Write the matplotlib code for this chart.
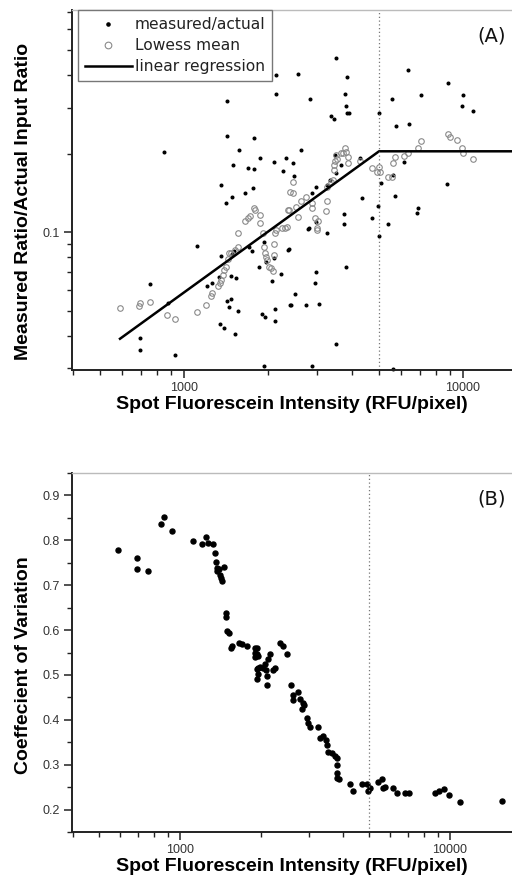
#!/usr/bin/env python3
"""
Two-panel figure: measured/actual ratio vs spot intensity (A) and CV vs intensity (B).
"""

from __future__ import annotations

import matplotlib

matplotlib.use("Agg")
import matplotlib.pyplot as plt
from matplotlib.ticker import FixedLocator, NullFormatter, FixedFormatter, MultipleLocator

# ---- panel A: measured/actual ratios (black dots) ----
measured_x = [
    3506, 2137, 2562, 3839, 6352, 2137, 1426, 2829, 3777, 3808, 3839, 3903, 3364, 3449,
    5000, 5566, 7071, 8836, 10000, 9918, 10860, 5753, 6405, 1426, 1782, 1575, 848, 2627,
    1873, 2320, 2102, 1499, 1696, 1782, 2264, 2479, 2458, 4275, 6145, 1357, 1767, 1654,
    1486, 1414, 2972, 2876, 3255, 3477, 3654, 3506, 3337, 5612, 5083, 4345, 5705, 8763,
    3746, 3746, 4719, 4959, 6898, 6841, 5385, 2805, 2972, 3255, 5000, 1113, 755, 876,
    695, 695, 928, 1357, 1486, 1511, 1753, 1710, 1857, 1935, 1967, 2102, 2378, 2227,
    2067, 1335, 1260, 1209, 1474, 1536, 1426, 1474, 1450, 1562, 1904, 1951, 2119, 2119,
    2398, 1346, 1391, 1524, 1935, 2783, 2359, 2972, 2948, 3808, 2499, 2418, 2737, 3047,
    3506, 2876, 5612,
]
measured_y = [
    0.464, 0.400, 0.403, 0.393, 0.418, 0.338, 0.318, 0.323, 0.338, 0.304, 0.286, 0.286, 0.278, 0.271,
    0.286, 0.323, 0.335, 0.372, 0.335, 0.304, 0.291, 0.255, 0.259, 0.233, 0.229, 0.206, 0.203, 0.206,
    0.192, 0.192, 0.185, 0.181, 0.176, 0.174, 0.171, 0.164, 0.184, 0.192, 0.185, 0.151, 0.147, 0.141,
    0.136, 0.129, 0.149, 0.141, 0.151, 0.197, 0.181, 0.168, 0.158, 0.165, 0.154, 0.135, 0.137, 0.153,
    0.117, 0.107, 0.113, 0.126, 0.124, 0.118, 0.107, 0.104, 0.109, 0.099, 0.0965, 0.0884, 0.0632, 0.0535,
    0.0393, 0.0353, 0.0338, 0.0809, 0.0824, 0.0846, 0.0846, 0.0876, 0.0734, 0.0916, 0.0768, 0.0795, 0.0861, 0.0690,
    0.0649, 0.0672, 0.0638, 0.0621, 0.0678, 0.0666, 0.0544, 0.0554, 0.0516, 0.0498, 0.0485, 0.0472, 0.0507, 0.0456,
    0.0525, 0.0444, 0.0429, 0.0407, 0.0307, 0.103, 0.0853, 0.0703, 0.0638, 0.0734, 0.0579, 0.0525, 0.0525, 0.0530,
    0.0372, 0.0307, 0.0299,
]

# ---- panel A: lowess mean (gray open circles) ----
lowess_x = [
    590, 695, 690, 755, 869, 928, 1113, 1199, 1250, 1260, 1324, 1346, 1357, 1380, 1391, 1414,
    1438, 1450, 1474, 1524, 1562, 1562, 1654, 1696, 1724, 1782, 1797, 1873, 1873, 1920, 1935,
    1951, 1967, 1984, 2017, 2050, 2084, 2102, 2102, 2119, 2137, 2246, 2301, 2340, 2378, 2398,
    2458, 2458, 2520, 2359, 2562, 2627, 2737, 2876, 2876, 2948, 2997, 3022, 2997, 3228, 3255,
    3364, 3420, 3449, 3449, 3477, 3506, 3654, 3777, 3808, 3871, 3871, 3715, 3535, 4275, 4719,
    4918, 5000, 5041, 5385, 5566, 5612, 5705, 6145, 6352, 6898, 7071, 8836, 8983, 9517, 9918,
    10000, 10860, 3255,
]
lowess_y = [
    0.0512, 0.0535, 0.0521, 0.0539, 0.0481, 0.0464, 0.0494, 0.0525, 0.0569, 0.0584, 0.0621, 0.0638,
    0.0655, 0.0684, 0.0715, 0.0734, 0.0788, 0.0831, 0.0831, 0.0853, 0.0876, 0.099, 0.110, 0.113,
    0.115, 0.124, 0.122, 0.116, 0.108, 0.099, 0.0876, 0.0831, 0.0802, 0.0781, 0.0734, 0.0728,
    0.0709, 0.0816, 0.090, 0.099, 0.102, 0.104, 0.104, 0.105, 0.122, 0.142, 0.155, 0.141, 0.125,
    0.122, 0.114, 0.131, 0.136, 0.129, 0.124, 0.113, 0.104, 0.110, 0.102, 0.120, 0.131, 0.155,
    0.158, 0.173, 0.181, 0.187, 0.197, 0.201, 0.210, 0.203, 0.194, 0.184, 0.201, 0.190, 0.187,
    0.176, 0.170, 0.177, 0.170, 0.162, 0.162, 0.184, 0.194, 0.196, 0.201, 0.210, 0.223, 0.237,
    0.231, 0.225, 0.210, 0.201, 0.190, 0.149,
]

# ---- panel A: piecewise linear regression ----
regression_x = [590, 5000, 20000]
regression_y = [0.039, 0.204, 0.204]

# ---- panel B: coefficient of variation ----
cv_x = [
    589, 693, 693, 761, 850, 872, 934, 1117, 1206, 1248, 1270, 1325, 1348, 1359, 1371, 1371,
    1394, 1406, 1419, 1431, 1455, 1480, 1480, 1493, 1519, 1545, 1558, 1654, 1697, 1771, 1896,
    1929, 1896, 1945, 1929, 1896, 1945, 2154, 2118, 2065, 2346, 2407, 2491, 2248, 1929, 1979,
    2030, 2083, 2101, 2101, 1929, 2210, 1945, 2577, 2621, 2621, 2735, 2783, 2855, 2880, 2831,
    2954, 2980, 3030, 3245, 3300, 3386, 3474, 3504, 3534, 3656, 3750, 3815, 3815, 3815, 3815,
    3880, 4263, 4373, 4722, 4927, 4969, 5054, 5412, 5600, 5649, 5743, 6152, 6364, 6813, 7049,
    8801, 9106, 9502, 9915, 10890, 15580,
]
cv_y = [
    0.779, 0.761, 0.735, 0.732, 0.837, 0.853, 0.821, 0.799, 0.792, 0.808, 0.795, 0.792, 0.772, 0.752,
    0.739, 0.732, 0.735, 0.723, 0.717, 0.710, 0.741, 0.637, 0.630, 0.599, 0.594, 0.561, 0.565, 0.572,
    0.570, 0.565, 0.559, 0.547, 0.539, 0.516, 0.561, 0.550, 0.543, 0.547, 0.536, 0.525, 0.572, 0.565,
    0.547, 0.516, 0.514, 0.518, 0.516, 0.510, 0.498, 0.478, 0.492, 0.512, 0.503, 0.478, 0.456, 0.445,
    0.461, 0.447, 0.438, 0.434, 0.423, 0.403, 0.394, 0.385, 0.383, 0.360, 0.365, 0.354, 0.343, 0.329,
    0.327, 0.320, 0.316, 0.300, 0.282, 0.271, 0.267, 0.258, 0.242, 0.258, 0.258, 0.242, 0.247, 0.262,
    0.267, 0.247, 0.251, 0.247, 0.236, 0.238, 0.238, 0.236, 0.242, 0.245, 0.233, 0.216, 0.220,
]

cutoff = 5000

LABEL_FONT = "Liberation Sans"
TEXT_FONT = "DejaVu Sans"


def _log_x_ticks(ax) -> None:
    ax.set_xscale("log")
    ax.xaxis.set_major_locator(FixedLocator([1000, 10000]))
    ax.xaxis.set_major_formatter(FixedFormatter(["1000", "10000"]))
    minors = [m * d for d in (100, 1000, 10000) for m in range(2, 10)]
    ax.xaxis.set_minor_locator(FixedLocator(minors))
    ax.xaxis.set_minor_formatter(NullFormatter())


def _style_axes(ax) -> None:
    ax.spines["right"].set_visible(False)
    ax.spines["top"].set_color("#bbbbbb")
    ax.spines["top"].set_linewidth(1.0)
    for side in ("left", "bottom"):
        ax.spines[side].set_color("#222222")
        ax.spines[side].set_linewidth(1.4)
    ax.tick_params(which="major", direction="out", length=6, width=1.1, color="#222222",
                   labelsize=9, labelcolor="#333333", pad=2.5)
    ax.tick_params(which="minor", direction="out", length=3.5, width=1.0, color="#222222")
    ax.tick_params(top=False, right=False, which="both")
    for lab in ax.get_xticklabels() + ax.get_yticklabels():
        lab.set_fontfamily(LABEL_FONT)


def _axis_labels(ax, ylabel: str, ypos: float) -> None:
    ax.set_xlabel("Spot Fluorescein Intensity (RFU/pixel)", fontfamily=LABEL_FONT,
                  fontweight="bold", fontsize=14)
    ax.xaxis.set_label_coords(0.5, -0.072)
    ax.set_ylabel(ylabel, fontfamily=LABEL_FONT, fontweight="bold", fontsize=14)
    ax.yaxis.set_label_coords(-0.09, ypos)


def panel_a(fig) -> None:
    ax = fig.add_axes([72 / 512, 1 - 370 / 877, 440 / 512, 360 / 877])
    ax.plot(measured_x, measured_y, ls="none", marker="o", ms=1.9, color="black",
            label="measured/actual", clip_on=False)
    ax.plot(lowess_x, lowess_y, ls="none", marker="o", ms=4.0, mfc="none", mec="#8a8a8a",
            mew=0.8, label="Lowess mean")
    ax.plot(regression_x, regression_y, color="black", lw=1.8, label="linear regression")
    ax.axvline(cutoff, color="#777777", lw=0.9, ls=(0, (1, 2)))

    _log_x_ticks(ax)
    ax.set_xlim(397, 14980)
    ax.set_yscale("log")
    ax.set_ylim(0.0296, 0.71)
    ax.yaxis.set_major_locator(FixedLocator([0.1]))
    ax.yaxis.set_major_formatter(FixedFormatter(["0.1"]))
    ax.yaxis.set_minor_locator(FixedLocator([0.03, 0.04, 0.05, 0.06, 0.07, 0.08, 0.09,
                                             0.2, 0.3, 0.4, 0.5, 0.6, 0.7]))
    ax.yaxis.set_minor_formatter(NullFormatter())
    _style_axes(ax)
    _axis_labels(ax, "Measured Ratio/Actual Input Ratio", 0.467)

    leg = ax.legend(loc="upper left", bbox_to_anchor=(6 / 440, 1.0), borderaxespad=0,
                    frameon=True, fancybox=False, edgecolor="#777777", framealpha=1,
                    prop={"family": TEXT_FONT, "size": 11.2}, handlelength=3.0,
                    handletextpad=0.2, borderpad=0.45, labelspacing=0.4, markerscale=1.2)
    leg.get_frame().set_linewidth(1.0)
    for t in leg.get_texts():
        t.set_color("#222222")

    ax.text(0.985, 0.955, "(A)", transform=ax.transAxes, ha="right", va="top",
            fontfamily=TEXT_FONT, fontsize=14, color="#111111")


def panel_b(fig) -> None:
    ax = fig.add_axes([72 / 512, 1 - 832 / 877, 440 / 512, 359 / 877])
    ax.plot(cv_x, cv_y, ls="none", marker="o", ms=3.6, color="black")
    ax.axvline(cutoff, color="#777777", lw=0.9, ls=(0, (1, 2)))

    _log_x_ticks(ax)
    ax.set_xlim(398, 16970)
    ax.set_ylim(0.15, 0.95)
    ax.yaxis.set_major_locator(MultipleLocator(0.1))
    ax.yaxis.set_minor_locator(MultipleLocator(0.05))
    ax.yaxis.set_major_formatter(matplotlib.ticker.FormatStrFormatter("%.1f"))
    _style_axes(ax)
    _axis_labels(ax, "Coeffecient of Variation", 0.465)

    ax.text(0.985, 0.955, "(B)", transform=ax.transAxes, ha="right", va="top",
            fontfamily=TEXT_FONT, fontsize=14, color="#111111")


def main() -> None:
    fig = plt.figure(figsize=(5.12, 8.77), dpi=100)
    panel_a(fig)
    panel_b(fig)
    fig.savefig("out.png", dpi=100)
    plt.close(fig)


if __name__ == "__main__":
    main()
